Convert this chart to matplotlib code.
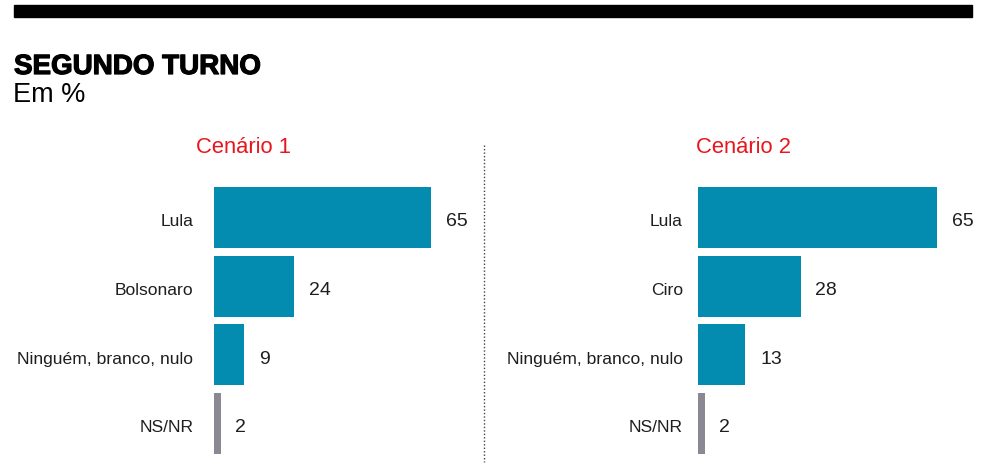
import matplotlib
matplotlib.use("Agg")
import matplotlib.pyplot as plt
from matplotlib.patches import Rectangle
from matplotlib.lines import Line2D
import matplotlib.patheffects as pe

# data
cen1_labels = ["Lula", "Bolsonaro", "Ninguém, branco, nulo", "NS/NR"]
cen1_values = [65, 24, 9, 2]
cen2_labels = ["Lula", "Ciro", "Ninguém, branco, nulo", "NS/NR"]
cen2_values = [65, 28, 13, 2]

TEAL = "#038cb0"
GREY = "#8a8893"
RED = "#e8161d"
TXT = "#1e1e1e"

plt.rcParams["font.family"] = ["Liberation Sans", "DejaVu Sans"]

W, H = 1000, 475
fig = plt.figure(figsize=(W / 100, H / 100), dpi=100)


def fx(px):
    return px / W


def fy(py):
    return 1 - py / H


# black bar on top
fig.patches.append(Rectangle((fx(14), fy(17)), fx(958), 12 / H,
                             transform=fig.transFigure, color="black"))

fig.text(fx(14), fy(74), "SEGUNDO TURNO", fontsize=20, fontweight="bold",
         color="black", va="baseline", ha="left",
         path_effects=[pe.withStroke(linewidth=0.9, foreground="black")])
fig.text(fx(13), fy(102), "Em %", fontsize=19.5, color="black",
         va="baseline", ha="left")

# dotted separator
fig.add_artist(Line2D([fx(484), fx(484)], [fy(145), fy(462)],
                      transform=fig.transFigure, color="#444444",
                      linewidth=1, linestyle=(0, (1, 1.5))))

top, bottom = 183.2, 457.8


def panel(left, xmax, width_px, labels, values, title, title_x, pad):
    ax = fig.add_axes([fx(left), fy(bottom), width_px / W, (bottom - top) / H])
    colors = [TEAL] * (len(values) - 1) + [GREY]
    y = range(len(values))
    ax.barh(y, values, height=0.89, color=colors)
    ax.set_xlim(0, xmax)
    ax.set_ylim(len(values) - 0.5, -0.5)
    ax.set_xticks([])
    ax.set_yticks([])
    for s in ax.spines.values():
        s.set_visible(False)
    for i, (lab, v) in enumerate(zip(labels, values)):
        ax.annotate(lab, (0, i), xytext=(-pad, -3.2), textcoords="offset points",
                    ha="right", va="center", fontsize=12.6, color=TXT,
                    annotation_clip=False)
        ax.annotate(str(v), (v, i), xytext=(10.5, -3.2), textcoords="offset points",
                    ha="left", va="center", fontsize=14, color=TXT,
                    annotation_clip=False)
    fig.text(fx(title_x), fy(153), title, fontsize=15.8, color=RED,
             ha="center", va="baseline")
    return ax


panel(214, 80, 80 * 3.34, cen1_labels, cen1_values, "Cenário 1", 243, 15)
panel(697.5, 80, 80 * 3.69, cen2_labels, cen2_values, "Cenário 2", 743, 10.5)

fig.savefig("out.png", dpi=100)
